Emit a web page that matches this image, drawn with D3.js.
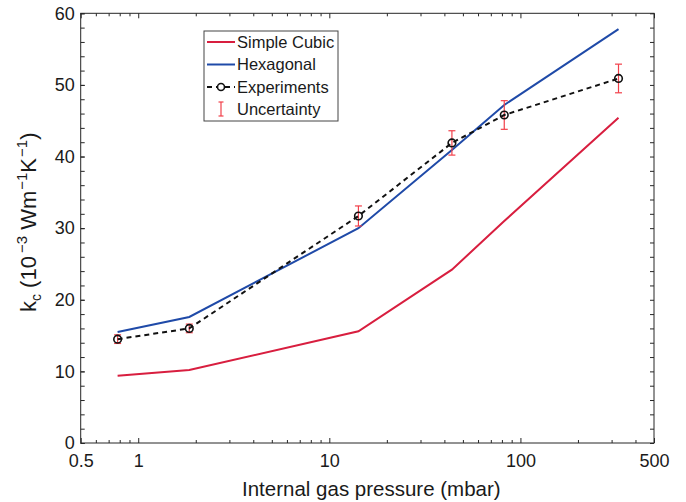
<!DOCTYPE html>
<html>
<head>
<meta charset="utf-8">
<script src="https://cdn.jsdelivr.net/npm/d3@7"></script>
<style>
  html, body { margin: 0; padding: 0; background: #fff; }
  svg { display: block; font-family: "Liberation Sans", Arial, sans-serif; }
</style>
</head>
<body>
<svg id="chart" width="686" height="502"></svg>
<script>
// ---- data ----
const pressure     = [0.78, 1.85, 14.2, 43.8, 82.3, 326];   // mbar
const simpleCubic  = [9.4, 10.2, 15.6, 24.2, 31.0, 45.4];
const hexagonal    = [15.5, 17.6, 30.0, 40.9, 47.2, 57.8];
const experiments  = [14.5, 16.0, 31.7, 41.9, 45.8, 50.9];
const uncertainty  = [0.6, 0.6, 1.4, 1.7, 2.0, 2.0];
const xTickValues  = [0.5, 1, 10, 100, 500];
const xTickLabels  = ["0.5", "1", "10", "100", "500"];
const xMinorTicks  = [0.6, 0.7, 0.8, 0.9, 2, 3, 4, 5, 6, 7, 8, 9, 20, 30, 40, 50, 60, 70, 80, 90, 200, 300, 400];
const yTickValues  = [0, 10, 20, 30, 40, 50, 60];
const yMinorTicks  = d3.range(0, 61, 2);
const legendNames  = ["Simple Cubic", "Hexagonal", "Experiments", "Uncertainty"];

const colRed = "#d81e3f", colBlue = "#1f4aa8", colErr = "#f2404a", axisCol = "#262626";

const svg = d3.select("#chart");
const L = 80.7, R = 654, T = 13.3, B = 443;
const x = d3.scaleLog().domain([0.5, 500]).range([L, R]);
const y = d3.scaleLinear().domain([0, 60]).range([B, T]);

// ---- axes ----
function styleAxis(g) {
  g.selectAll("path.domain").remove();
  g.selectAll("line").attr("stroke", axisCol).attr("stroke-width", 1);
  g.selectAll("text").attr("fill", "#1a1a1a").attr("font-size", 18)
    .attr("font-family", '"Liberation Sans", Arial, sans-serif');
}
// bottom major with labels
svg.append("g").attr("transform", `translate(0,${B})`)
  .call(d3.axisBottom(x).tickValues(xTickValues).tickFormat((d,i) => xTickLabels[i])
        .tickSizeInner(-5).tickSizeOuter(0).tickPadding(11))
  .call(styleAxis);
svg.append("g").attr("transform", `translate(0,${B})`)
  .call(d3.axisBottom(x).tickValues(xMinorTicks).tickFormat("").tickSizeInner(-3).tickSizeOuter(0))
  .call(styleAxis);
// top mirrored
svg.append("g").attr("transform", `translate(0,${T})`)
  .call(d3.axisTop(x).tickValues(xTickValues).tickFormat("").tickSizeInner(-5).tickSizeOuter(0))
  .call(styleAxis);
svg.append("g").attr("transform", `translate(0,${T})`)
  .call(d3.axisTop(x).tickValues(xMinorTicks).tickFormat("").tickSizeInner(-3).tickSizeOuter(0))
  .call(styleAxis);
// left with labels
svg.append("g").attr("transform", `translate(${L},0)`)
  .call(d3.axisLeft(y).tickValues(yTickValues).tickFormat(d3.format("d"))
        .tickSizeInner(-4).tickSizeOuter(0).tickPadding(6))
  .call(styleAxis);
svg.append("g").attr("transform", `translate(${L},0)`)
  .call(d3.axisLeft(y).tickValues(yMinorTicks).tickFormat("").tickSizeInner(-4).tickSizeOuter(0))
  .call(styleAxis);
// right mirrored
svg.append("g").attr("transform", `translate(${R},0)`)
  .call(d3.axisRight(y).tickValues(yMinorTicks).tickFormat("").tickSizeInner(-4).tickSizeOuter(0))
  .call(styleAxis);

// box
svg.append("rect").attr("x", L).attr("y", T).attr("width", R - L).attr("height", B - T)
  .attr("fill", "none").attr("stroke", axisCol).attr("stroke-width", 1);

// ---- series ----
const line = d3.line().x(d => x(d[0])).y(d => y(d[1]));
svg.append("path").datum(d3.zip(pressure, simpleCubic)).attr("d", line)
  .attr("fill", "none").attr("stroke", colRed).attr("stroke-width", 2);
svg.append("path").datum(d3.zip(pressure, hexagonal)).attr("d", line)
  .attr("fill", "none").attr("stroke", colBlue).attr("stroke-width", 2);

// error bars
const eb = svg.append("g").attr("stroke", colErr).attr("stroke-width", 1.2);
pressure.forEach((p, i) => {
  const cx = x(p), y1 = y(experiments[i] + uncertainty[i]), y0 = y(experiments[i] - uncertainty[i]);
  eb.append("line").attr("x1", cx).attr("x2", cx).attr("y1", y1).attr("y2", y0);
  eb.append("line").attr("x1", cx - 3.5).attr("x2", cx + 3.5).attr("y1", y1).attr("y2", y1);
  eb.append("line").attr("x1", cx - 3.5).attr("x2", cx + 3.5).attr("y1", y0).attr("y2", y0);
});

// experiments dashed line + circles
svg.append("path").datum(d3.zip(pressure, experiments)).attr("d", line)
  .attr("fill", "none").attr("stroke", "#111").attr("stroke-width", 2).attr("stroke-dasharray", "5,4");
svg.append("g").selectAll("circle").data(d3.zip(pressure, experiments)).join("circle")
  .attr("cx", d => x(d[0])).attr("cy", d => y(d[1])).attr("r", 3.8)
  .attr("fill", "none").attr("stroke", "#111").attr("stroke-width", 1.6);

// ---- legend ----
const lg = svg.append("g");
lg.append("rect").attr("x", 204).attr("y", 31).attr("width", 134).attr("height", 90)
  .attr("fill", "#fff").attr("stroke", "#444").attr("stroke-width", 1);
const rowY = [42, 64.5, 87, 109];
lg.append("line").attr("x1", 207).attr("x2", 235).attr("y1", rowY[0]).attr("y2", rowY[0])
  .attr("stroke", colRed).attr("stroke-width", 2);
lg.append("line").attr("x1", 207).attr("x2", 235).attr("y1", rowY[1]).attr("y2", rowY[1])
  .attr("stroke", colBlue).attr("stroke-width", 2);
lg.append("line").attr("x1", 207).attr("x2", 235).attr("y1", rowY[2]).attr("y2", rowY[2])
  .attr("stroke", "#111").attr("stroke-width", 2).attr("stroke-dasharray", "5,4");
lg.append("circle").attr("cx", 221).attr("cy", rowY[2]).attr("r", 3.5)
  .attr("fill", "#fff").attr("stroke", "#111").attr("stroke-width", 1.6);
const lu = lg.append("g").attr("stroke", colErr).attr("stroke-width", 1.2);
lu.append("line").attr("x1", 221).attr("x2", 221).attr("y1", rowY[3] - 7).attr("y2", rowY[3] + 7);
lu.append("line").attr("x1", 218.5).attr("x2", 223.5).attr("y1", rowY[3] - 7).attr("y2", rowY[3] - 7);
lu.append("line").attr("x1", 218.5).attr("x2", 223.5).attr("y1", rowY[3] + 7).attr("y2", rowY[3] + 7);
lg.selectAll("text.lt").data(legendNames).join("text").attr("class", "lt")
  .attr("x", 237).attr("y", (d, i) => rowY[i]).attr("dy", "0.36em")
  .attr("font-size", 16.5).attr("fill", "#1a1a1a").text(d => d);

// ---- axis titles ----
svg.append("text").attr("x", (L + R) / 2 + 4).attr("y", 496).attr("text-anchor", "middle")
  .attr("font-size", 20.5).attr("fill", "#1a1a1a").text("Internal gas pressure (mbar)");

const yt = svg.append("text").attr("transform", "translate(36,312) rotate(-90)")
  .attr("font-size", 22).attr("fill", "#1a1a1a");
yt.append("tspan").text("k");
yt.append("tspan").attr("font-size", 14).attr("dy", 5).text("c");
yt.append("tspan").attr("dy", -5).text(" (10");
yt.append("tspan").attr("font-size", 15).attr("dy", -9).attr("dx", 3).text("\u22123");
yt.append("tspan").attr("dy", 9).text(" Wm");
yt.append("tspan").attr("font-size", 15).attr("dy", -9).attr("dx", 1).text("\u22121");
yt.append("tspan").attr("dy", 9).text("K");
yt.append("tspan").attr("font-size", 15).attr("dy", -9).attr("dx", 1).text("\u22121");
yt.append("tspan").attr("dy", 9).text(")");
</script>
</body>
</html>
